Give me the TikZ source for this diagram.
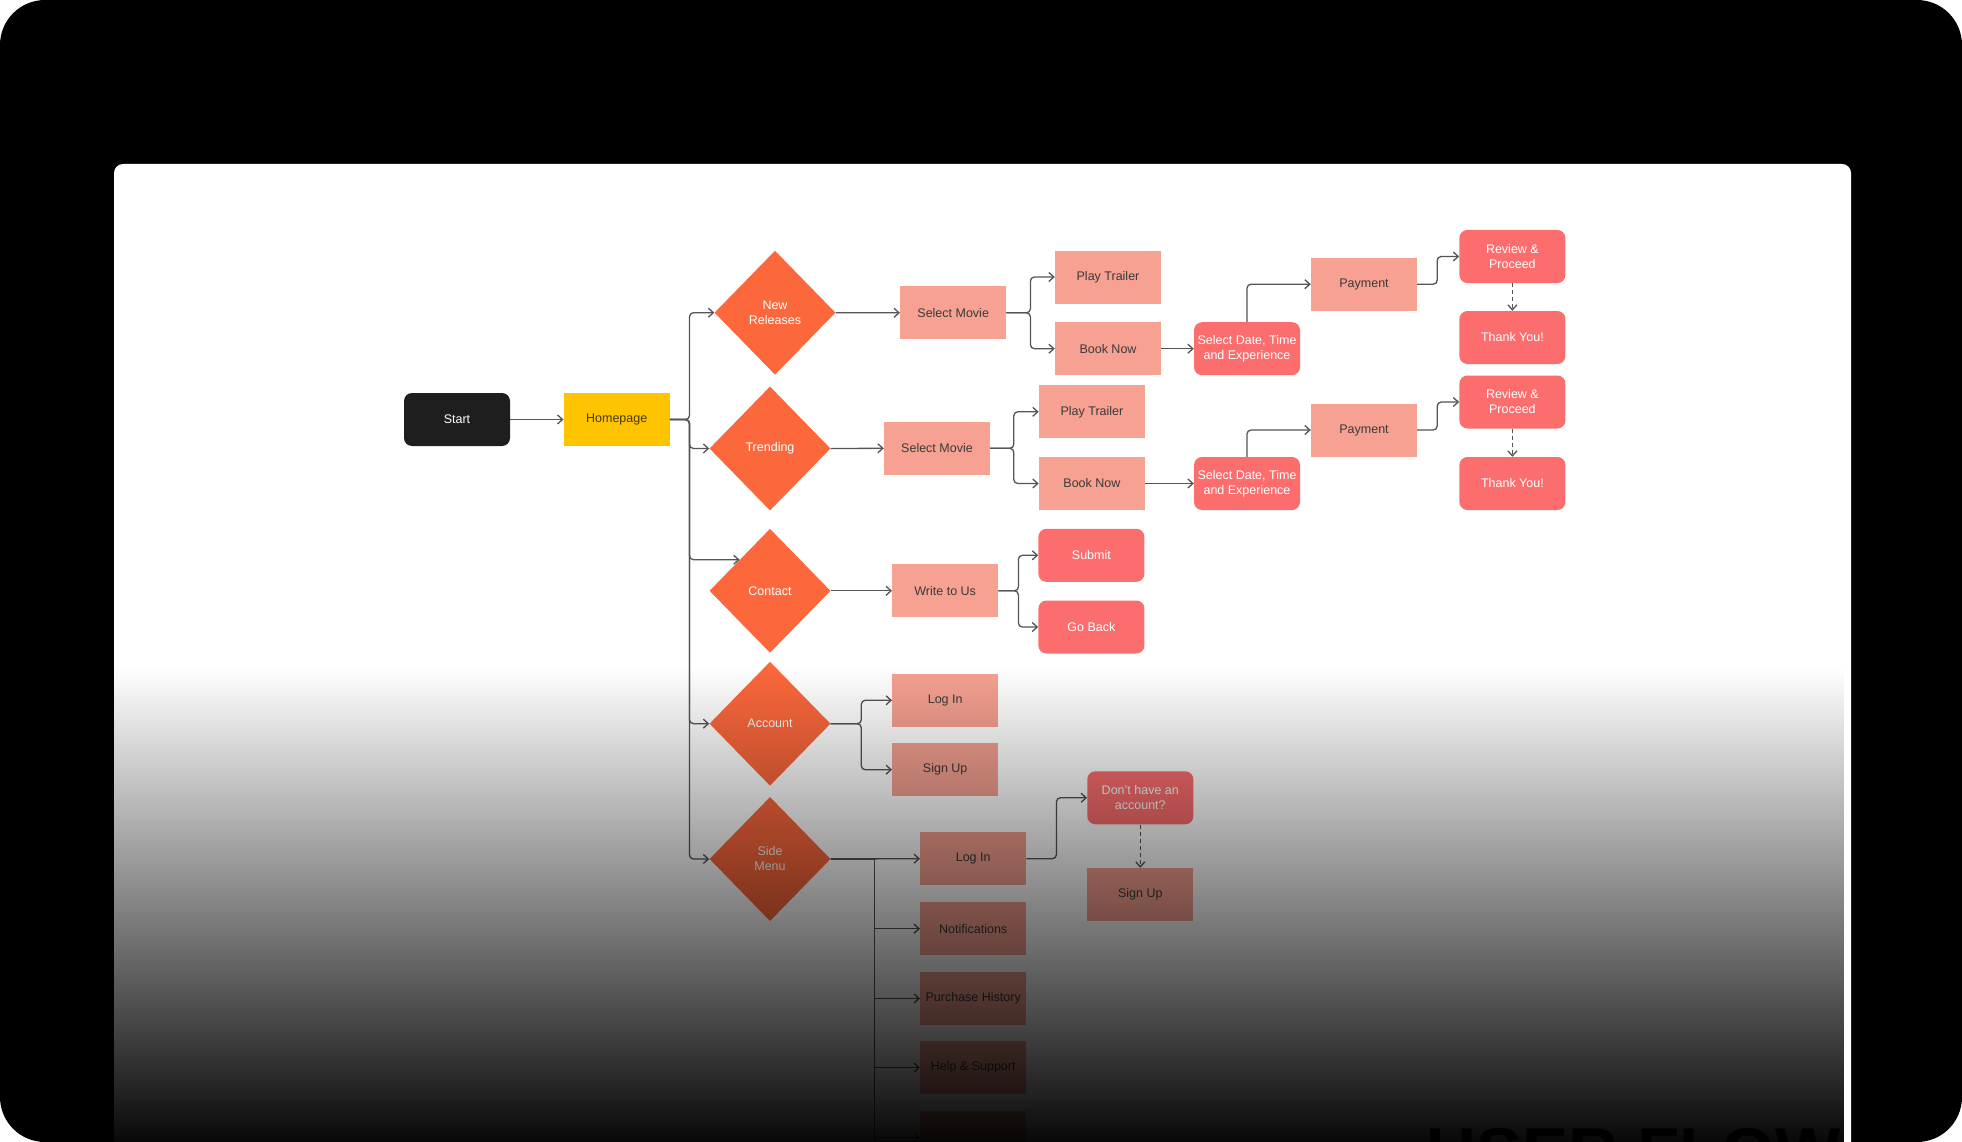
\documentclass[tikz,border=0pt]{standalone}
\usepackage{fontspec}
\setmainfont{Liberation Sans}
\usetikzlibrary{shapes.geometric,arrows.meta,fadings}
\definecolor{orng}{RGB}{252,104,60}
\definecolor{salm}{RGB}{246,161,145}
\definecolor{redc}{RGB}{252,110,110}
\definecolor{yell}{RGB}{254,196,0}
\definecolor{startc}{RGB}{30,30,30}
\definecolor{lineg}{RGB}{85,85,85}
\definecolor{txtdark}{RGB}{58,58,58}
\definecolor{hometxt}{RGB}{70,55,20}
\tikzfading[name=fadedown, top color=transparent!100, bottom color=transparent!3]
\begin{document}
\begin{tikzpicture}[x=1pt,y=-1pt,
  base/.style={minimum width=106pt, minimum height=53pt, inner sep=1pt, align=center, font=\fontsize{12.5}{15}\selectfont},
  salmonbox/.style={base, fill=salm, text=txtdark},
  redbox/.style={base, fill=redc, rounded corners=8pt, text=white},
  startbox/.style={base, fill=startc, rounded corners=8pt, text=white},
  homebox/.style={base, fill=yell, text=hometxt},
  dia/.style={diamond, fill=orng, text=white, minimum width=121pt, minimum height=124pt, inner sep=0pt, align=center, font=\fontsize{12.5}{15}\selectfont},
  conn/.style={draw=lineg, line width=1.3pt, -{Straight Barb[length=5pt,width=9pt]}, rounded corners=4pt},
  dconn/.style={conn, dash pattern=on 4pt off 3pt},
  plain/.style={draw=lineg, line width=1.3pt}
]
\useasboundingbox (0,0) rectangle (1962,1142);
\begin{scope}
\clip (0,0) rectangle (1962,1142);
\fill[white] (0,0) rectangle (1962,1142);
\fill[black, rounded corners=45pt] (0,0) rectangle (1962,1142);
\fill[white, rounded corners=9pt] (114,164) rectangle (1851,1220);

% main nodes
\node[startbox] (start) at (457,419.5) {Start};
\node[homebox] (home) at (616.7,419.5) {Homepage};
\node[dia] (nr) at (775,312.7) {New\\Releases};
\node[dia] (tr) at (770,448.5) {Trending};
\node[dia] (ct) at (770,590.8) {Contact};
\node[dia] (ac) at (770,723.7) {Account};
\node[dia] (sm) at (770,859) {Side\\Menu};

% row 1
\node[salmonbox] (sm1) at (953.2,312.8) {Select Movie};
\node[salmonbox] (pt1) at (1108,277) {Play Trailer};
\node[salmonbox] (bn1) at (1108,348.7) {Book Now};
\node[redbox] (sd1) at (1247,348.7) {Select Date, Time\\and Experience};
\node[salmonbox] (pay1) at (1364,284.2) {Payment};
\node[redbox] (rv1) at (1512.4,256.5) {Review \&\\Proceed};
\node[redbox] (ty1) at (1512.4,337.5) {Thank You!};

% row 2
\node[salmonbox] (sm2) at (937,448.3) {Select Movie};
\node[salmonbox] (pt2) at (1091.9,411.8) {Play Trailer};
\node[salmonbox] (bn2) at (1091.9,483.5) {Book Now};
\node[redbox] (sd2) at (1247,483.5) {Select Date, Time\\and Experience};
\node[salmonbox] (pay2) at (1364,430) {Payment};
\node[redbox] (rv2) at (1512.4,402) {Review \&\\Proceed};
\node[redbox] (ty2) at (1512.4,483.5) {Thank You!};

% contact
\node[salmonbox] (wu) at (945.2,590.8) {Write to Us};
\node[redbox] (sub) at (1091.4,555.3) {Submit};
\node[redbox] (gb) at (1091.4,627) {Go Back};

% account
\node[salmonbox] (li) at (945.2,700.3) {Log In};
\node[salmonbox] (su) at (945.2,769.7) {Sign Up};

% side menu
\node[salmonbox] (li2) at (973.2,858.7) {Log In};
\node[salmonbox] (nt) at (973.2,928.7) {Notifications};
\node[salmonbox] (ph) at (973.2,998.5) {Purchase History};
\node[salmonbox] (hs) at (973.2,1067.5) {Help \& Support};
\node[salmonbox] (ex) at (973.2,1137.5) {};
\node[redbox] (dh) at (1140.3,797.8) {Don't have an\\account?};
\node[salmonbox] (su2) at (1140.3,894.5) {Sign Up};

% connectors
\coordinate (hj) at (689.5,419.5);
\draw[conn] (start.east) -- (home.west);
\draw[conn] (home.east) -- (hj) |- (nr.west);
\draw[conn] (home.east) -- (hj) |- (tr.west);
\draw[conn] (home.east) -- (hj) |- (ct.north west);
\draw[conn] (home.east) -- (hj) |- (ac.west);
\draw[conn] (home.east) -- (hj) |- (sm.west);

\draw[conn] (nr.east) -- (sm1.west);
\draw[conn] (sm1.east) -- ++(24,0) |- (pt1.west);
\draw[conn] (sm1.east) -- ++(24,0) |- (bn1.west);
\draw[conn] (bn1.east) -- (sd1.west);
\draw[conn] (sd1.north) |- (pay1.west);
\draw[conn] (pay1.east) -- ++(20,0) |- (rv1.west);
\draw[dconn] (rv1.south) -- (ty1.north);

\draw[conn] (tr.east) -- (sm2.west);
\draw[conn] (sm2.east) -- ++(23.6,0) |- (pt2.west);
\draw[conn] (sm2.east) -- ++(23.6,0) |- (bn2.west);
\draw[conn] (bn2.east) -- (sd2.west);
\draw[conn] (sd2.north) |- (pay2.west);
\draw[conn] (pay2.east) -- ++(20,0) |- (rv2.west);
\draw[dconn] (rv2.south) -- (ty2.north);

\draw[conn] (ct.east) -- (wu.west);
\draw[conn] (wu.east) -- ++(20,0) |- (sub.west);
\draw[conn] (wu.east) -- ++(20,0) |- (gb.west);

\draw[conn] (ac.east) -- ++(30.6,0) |- (li.west);
\draw[conn] (ac.east) -- ++(30.6,0) |- (su.west);

\coordinate (sj) at (874.7,859);
\draw[conn] (sm.east) -- (li2.west);
\draw[conn, rounded corners=0pt] (sm.east) -- (sj) |- (nt.west);
\draw[conn, rounded corners=0pt] (sm.east) -- (sj) |- (ph.west);
\draw[conn, rounded corners=0pt] (sm.east) -- (sj) |- (hs.west);
\draw[conn, rounded corners=0pt] (sm.east) -- (sj) |- (ex.west);
\coordinate (sbot) at (874.7,1150);
\draw[plain] (sj) -- (sbot);
\draw[conn] (li2.east) -- ++(30,0) |- (dh.west);
\draw[dconn] (dh.south) -- (su2.north);

% bottom darkening
\fill[black, path fading=fadedown] (114,668) rectangle (1851,1142);
\node[anchor=base west, inner sep=0pt, text=black, font=\bfseries\fontsize{69}{69}\selectfont] (uf) at (1426,1176) {USER FLOW};
\end{scope}
\end{tikzpicture}
\end{document}
